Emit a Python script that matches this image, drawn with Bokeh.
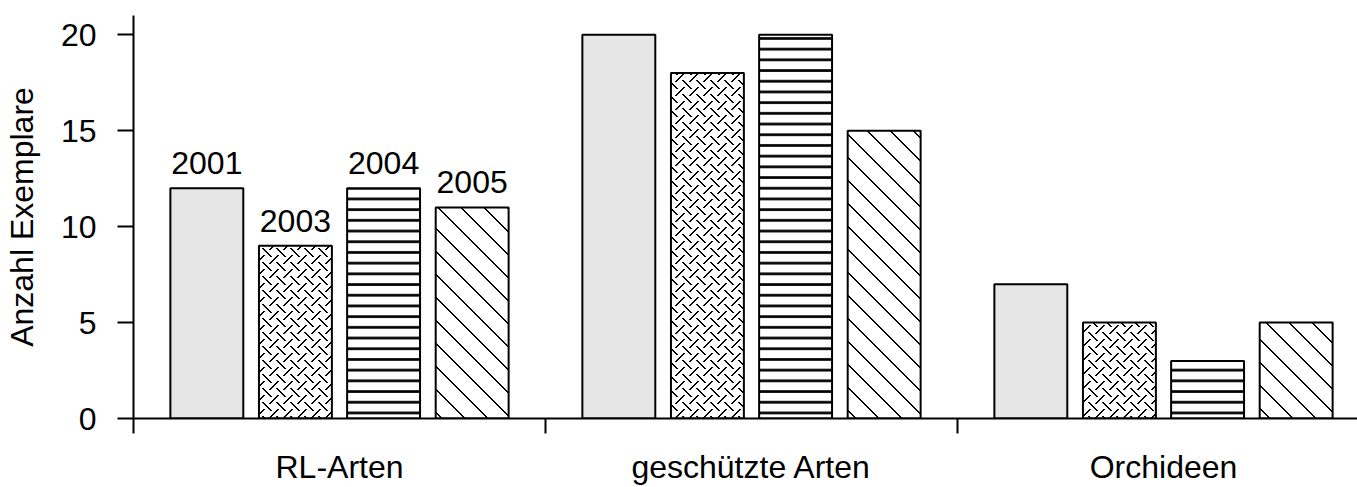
import base64
import struct
import zlib

import numpy as np
from bokeh.plotting import figure
from bokeh.models import Range1d, FixedTicker, ColumnDataSource, ImageURLTexture
from bokeh.core.properties import value
from bokeh.embed import file_html
from bokeh.resources import INLINE

# ---- data ----
groups = ["RL-Arten", "geschützte Arten", "Orchideen"]
years = ["2001", "2003", "2004", "2005"]
v2001 = [12, 20, 7]
v2003 = [9, 18, 5]
v2004 = [12, 20, 3]
v2005 = [11, 15, 5]

FONT = "Liberation Sans"
FS = "32px"
W, H = 1357, 487
LEFT, TOP, BOTTOM = 133, 15, 69
GROUP_PX = 412


def png_uri(s, px):
    """Encode an s x s tile (black pixels in px, white elsewhere) as PNG data URI."""
    raw = bytearray()
    for y in range(s):
        raw.append(0)
        for x in range(s):
            raw += bytes([0, 0, 0, 255]) if (x, y) in px else bytes([255, 255, 255, 255])

    def chunk(t, d):
        return struct.pack(">I", len(d)) + t + d + struct.pack(">I", zlib.crc32(t + d) & 0xFFFFFFFF)

    png = (b"\x89PNG\r\n\x1a\n"
           + chunk(b"IHDR", struct.pack(">IIBBBBB", s, s, 8, 6, 0, 0, 0))
           + chunk(b"IDAT", zlib.compress(bytes(raw)))
           + chunk(b"IEND", b""))
    return "data:image/png;base64," + base64.b64encode(png).decode()


def weave_tile(s=14, half=4):
    px = set()
    c = s // 2
    for k in range(-half, half + 1):
        for dx in (0, 1):
            px.add(((k + dx) % s, k % s))              # "\" dash at the corners
            px.add(((c + k + dx) % s, (c - k) % s))    # "/" dash at the centre
    return png_uri(s, px)


def diag_tile(s=23):
    px = set()
    for k in range(s):
        for dx in (0, 1):
            px.add(((k + dx) % s, k))                  # "\" line
    return png_uri(s, px)


weave = ImageURLTexture(url=weave_tile())
diag = ImageURLTexture(url=diag_tile())

series = [v2001, v2003, v2004, v2005]
offsets = [-0.322, -0.107, 0.107, 0.322]
styles = [
    dict(fill_color="#e6e6e6"),
    dict(fill_color="white", hatch_pattern=value("weave"), hatch_extra={"weave": weave},
         hatch_color="black"),
    dict(fill_color="white", hatch_pattern="horizontal_line", hatch_scale=10.7,
         hatch_weight=2.7, hatch_color="black"),
    dict(fill_color="white", hatch_pattern=value("diag"), hatch_extra={"diag": diag},
         hatch_color="black"),
]

frame_w = W - LEFT
p = figure(width=W, height=H, output_backend="svg", toolbar_location=None,
           x_range=Range1d(0, frame_w / GROUP_PX), y_range=Range1d(0, 21),
           min_border_left=LEFT, min_border_right=0, min_border_top=TOP,
           min_border_bottom=BOTTOM)
p.outline_line_color = None
p.xgrid.visible = False
p.ygrid.visible = False
p.background_fill_color = "white"
p.border_fill_color = "white"

gidx = np.arange(len(groups)) + 0.5
for j, (vals, st) in enumerate(zip(series, styles)):
    src = ColumnDataSource(dict(x=gidx + offsets[j], top=vals))
    p.vbar(x="x", top="top", bottom=0, width=0.177, source=src,
           line_color="black", line_width=2, **st)

# year labels above first group
lab = ColumnDataSource(dict(x=[gidx[0] + o for o in offsets], y=[s[0] for s in series], t=years))
p.text(x="x", y="y", text="t", source=lab, text_align="center", text_baseline="bottom",
       y_offset=-14, text_font=value(FONT), text_font_size=FS, text_color="black")

# y axis
p.yaxis.ticker = FixedTicker(ticks=[0, 5, 10, 15, 20])
p.yaxis.major_tick_out = 16
p.yaxis.major_tick_in = 0
p.yaxis.minor_tick_out = 0
p.yaxis.minor_tick_in = 0
p.yaxis.axis_line_width = 2
p.yaxis.major_tick_line_width = 2
p.yaxis.major_label_text_font = FONT
p.yaxis.major_label_text_font_size = FS
p.yaxis.major_label_text_color = "black"
p.yaxis.major_label_standoff = 21
p.yaxis.axis_label = "Anzahl Exemplare"
p.yaxis.axis_label_text_font = FONT
p.yaxis.axis_label_text_font_size = FS
p.yaxis.axis_label_text_font_style = "normal"
p.yaxis.axis_label_text_color = "black"
p.yaxis.axis_label_standoff = 18

# x axis: labels at group centres, separator ticks at boundaries
p.xaxis.ticker = FixedTicker(ticks=list(gidx), minor_ticks=[0, 1, 2])
p.xaxis.major_label_overrides = {float(g): name for g, name in zip(gidx, groups)}
p.xaxis.major_tick_out = 0
p.xaxis.major_tick_in = 0
p.xaxis.minor_tick_out = 15
p.xaxis.minor_tick_in = 0
p.xaxis.minor_tick_line_width = 2
p.xaxis.axis_line_width = 2
p.xaxis.major_label_text_font = FONT
p.xaxis.major_label_text_font_size = FS
p.xaxis.major_label_text_color = "black"
p.xaxis.major_label_standoff = 15

open("out.html", "w").write(file_html(p, INLINE))
